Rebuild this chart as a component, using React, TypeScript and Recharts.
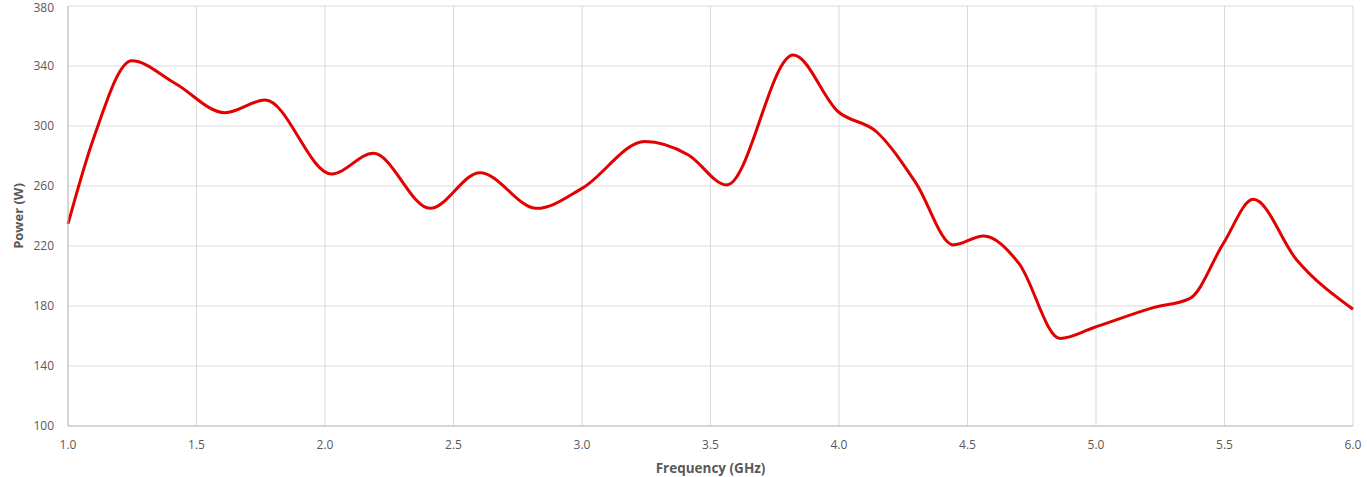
import { LineChart, Line, XAxis, YAxis, CartesianGrid } from "recharts";

const freq = [
    1.0, 1.1, 1.248, 1.416, 1.611, 1.767, 2.026, 2.188, 2.409, 2.603, 2.824, 3.0, 3.245, 3.414,
    3.563, 3.822, 3.997, 4.147, 4.3, 4.445, 4.562, 4.7, 4.86, 4.99, 5.223, 5.366, 5.496,
    5.612, 5.781, 6.0,
];
const power = [
    234.7, 292, 343.5, 328.5, 308.9, 317.3, 268, 281.8, 245.1, 268.9, 245.1, 258.4, 289.6, 280.7,
    260.7, 347.3, 309.5, 296, 261.8, 220.7, 226.7, 208.4, 158.4, 165.5, 178.9, 185.1, 221.8,
    251.1, 210.7, 177.8,
];
const xTicks = [1.0, 1.5, 2.0, 2.5, 3.0, 3.5, 4.0, 4.5, 5.0, 5.5, 6.0];
const yTicks = [100, 140, 180, 220, 260, 300, 340, 380];

const data = freq.map((f, i) => ({ f, p: power[i] }));

const tickStyle = { fontSize: 12, fill: "#595959" };

function YTitle(props: any) {
    const vb = props.viewBox || {};
    const cy = vb.y + vb.height / 2;
    return (
        <text
            x={18}
            y={cy}
            transform={`rotate(-90, 18, ${cy})`}
            textAnchor="middle"
            dominantBaseline="central"
            fontSize={13}
            fontWeight="bold"
            fill="#595959"
        >
            Power (W)
        </text>
    );
}

export default function App() {
    return (
        <div style={{ position: "absolute", left: 0, top: 0, fontFamily: "'Open Sans', sans-serif" }}>
            <LineChart
                width={1367}
                height={477}
                data={data}
                margin={{ top: 6, right: 14, left: 0, bottom: 0 }}
            >
                <CartesianGrid stroke="#d9d9d9" />
                <XAxis
                    dataKey="f"
                    type="number"
                    domain={[1, 6]}
                    ticks={xTicks}
                    tickFormatter={(v: number) => v.toFixed(1)}
                    tick={tickStyle}
                    tickLine={false}
                    tickSize={0}
                    tickMargin={14}
                    axisLine={{ stroke: "#bfbfbf" }}
                    height={51}
                    label={{
                        value: "Frequency (GHz)",
                        position: "insideBottom",
                        offset: 4,
                        style: { fontSize: 13.5, fontWeight: "bold", fill: "#595959" },
                    }}
                />
                <YAxis
                    type="number"
                    domain={[100, 380]}
                    ticks={yTicks}
                    tick={tickStyle}
                    tickLine={false}
                    tickSize={0}
                    tickMargin={14}
                    axisLine={{ stroke: "#bfbfbf" }}
                    width={68}
                    label={<YTitle />}
                />
                <Line
                    type="monotone"
                    dataKey="p"
                    stroke="#e30000"
                    strokeWidth={3}
                    dot={false}
                    isAnimationActive={false}
                />
            </LineChart>
        </div>
    );
}
